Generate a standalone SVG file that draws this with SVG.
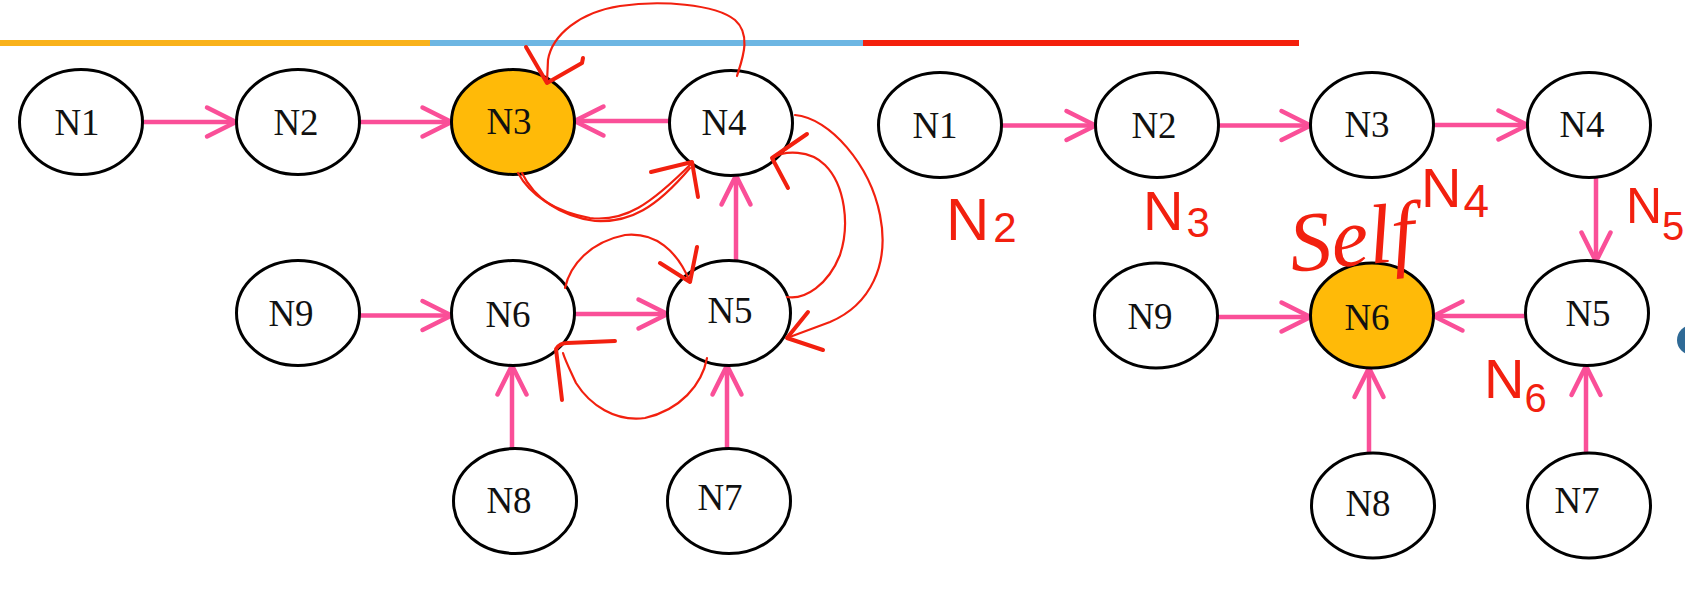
<svg xmlns="http://www.w3.org/2000/svg" width="1685" height="606" viewBox="0 0 1685 606">
<defs>
<marker id="ah" markerUnits="userSpaceOnUse" markerWidth="44" markerHeight="44" viewBox="-36 -22 44 44" refX="0" refY="0" orient="auto" overflow="visible">
<path d="M-29,-14.5 L0,0 L-29,14.5" fill="none" stroke="#FA4F98" stroke-width="4.5" stroke-linecap="round" stroke-linejoin="round"/>
</marker>
<style>
.nd{fill:#FFFFFF;stroke:#000;stroke-width:3}
.hl{fill:#FFBA08;stroke:#000;stroke-width:3}
.lb{font-family:"Liberation Serif","Times New Roman",serif;font-size:37px;fill:#111;text-anchor:middle}
.cn{fill:none;stroke:#FA4F98;stroke-width:4.5;marker-end:url(#ah)}
.rc{fill:none;stroke:#F2200F;stroke-width:2.2;stroke-linecap:round;stroke-linejoin:round}
.ra{fill:none;stroke:#F2200F;stroke-width:4;stroke-linecap:round;stroke-linejoin:round}
.hw{font-family:"Liberation Sans",Arial,sans-serif;fill:#F2200F}
.sf{font-family:"Liberation Serif","Times New Roman",serif;font-style:italic;fill:#F2200F}
</style>
</defs>
<rect width="1685" height="606" fill="#FFFFFF"/>
<g id="bars">
<rect x="0" y="40" width="430" height="6" fill="#F9B21B"/>
<rect x="430" y="40" width="433" height="6" fill="#6DB6E3"/>
<rect x="863" y="40" width="436" height="6" fill="#F4200C"/>
</g>
<g id="connectors">
<path class="cn" d="M143,122 H236"/>
<path class="cn" d="M359.5,122 H451.5"/>
<path class="cn" d="M669.5,121 H574.5"/>
<path class="cn" d="M736,260.5 V175.5"/>
<path class="cn" d="M359.5,315.5 H451.5"/>
<path class="cn" d="M574.5,314 H667.5"/>
<path class="cn" d="M512,448.5 V365.5"/>
<path class="cn" d="M727,448.5 V365.5"/>
<path class="cn" d="M1001.5,125.5 H1095.5"/>
<path class="cn" d="M1218.5,125.5 H1310.5"/>
<path class="cn" d="M1433.5,125 H1527.5"/>
<path class="cn" d="M1596,177.5 V261.5"/>
<path class="cn" d="M1525.5,316 H1433.5"/>
<path class="cn" d="M1217.5,317 H1310.5"/>
<path class="cn" d="M1369,453 V368"/>
<path class="cn" d="M1586,453 V366"/>
</g>
<g id="left-N1"><ellipse class="nd" cx="81" cy="122" rx="61.5" ry="52.5"/><text class="lb" x="77" y="135">N1</text></g>
<g id="left-N2"><ellipse class="nd" cx="298" cy="122" rx="61.5" ry="52.5"/><text class="lb" x="296" y="135">N2</text></g>
<g id="left-N3"><ellipse class="hl" cx="513" cy="122" rx="61.5" ry="52.5"/><text class="lb" x="509" y="134">N3</text></g>
<g id="left-N4"><ellipse class="nd" cx="731" cy="123" rx="61.5" ry="52.5"/><text class="lb" x="724" y="135">N4</text></g>
<g id="left-N9"><ellipse class="nd" cx="298" cy="313" rx="61.5" ry="52.5"/><text class="lb" x="291" y="326">N9</text></g>
<g id="left-N6"><ellipse class="nd" cx="513" cy="313" rx="61.5" ry="52.5"/><text class="lb" x="508" y="327">N6</text></g>
<g id="left-N5"><ellipse class="nd" cx="729" cy="313" rx="61.5" ry="52.5"/><text class="lb" x="730" y="323">N5</text></g>
<g id="left-N8"><ellipse class="nd" cx="515" cy="501" rx="61.5" ry="52.5"/><text class="lb" x="509" y="513">N8</text></g>
<g id="left-N7"><ellipse class="nd" cx="729" cy="501" rx="61.5" ry="52.5"/><text class="lb" x="720" y="510">N7</text></g>
<g id="right-N1"><ellipse class="nd" cx="940" cy="125" rx="61.5" ry="52.5"/><text class="lb" x="935" y="138">N1</text></g>
<g id="right-N2"><ellipse class="nd" cx="1157" cy="125" rx="61.5" ry="52.5"/><text class="lb" x="1154" y="138">N2</text></g>
<g id="right-N3"><ellipse class="nd" cx="1372" cy="125" rx="61.5" ry="52.5"/><text class="lb" x="1367" y="137">N3</text></g>
<g id="right-N4"><ellipse class="nd" cx="1589" cy="125" rx="61.5" ry="52.5"/><text class="lb" x="1582" y="137">N4</text></g>
<g id="right-N9"><ellipse class="nd" cx="1156" cy="315.5" rx="61.5" ry="52.5"/><text class="lb" x="1150" y="329">N9</text></g>
<g id="right-N6"><ellipse class="hl" cx="1372" cy="315.5" rx="61.5" ry="52.5"/><text class="lb" x="1367" y="330">N6</text></g>
<g id="right-N5"><ellipse class="nd" cx="1587" cy="313" rx="61.5" ry="52.5"/><text class="lb" x="1588" y="326">N5</text></g>
<g id="right-N8"><ellipse class="nd" cx="1373" cy="505.5" rx="61.5" ry="52.5"/><text class="lb" x="1368" y="516">N8</text></g>
<g id="right-N7"><ellipse class="nd" cx="1589" cy="505.5" rx="61.5" ry="52.5"/><text class="lb" x="1577" y="513">N7</text></g>
<g id="annotations">
<path class="rc" d="M737,76 C742,60 752,35 735,20 C715,4 660,0 620,6 C580,12 552,35 548,60 L547,82"/>
<path class="ra" d="M526,47 L547,83 L582,63 L583,58"/>
<path class="rc" d="M518,173 C530,195 555,212 590,218 C625,222 650,205 692,163"/>
<path class="rc" d="M522,173 C534,198 560,216 595,221 C630,223 656,208 690,168"/>
<path class="ra" d="M651,172 L692,162 L698,197"/>
<path class="rc" d="M795,115 C830,118 870,165 880,215 C890,265 870,305 830,322 L787,338"/>
<path class="ra" d="M808,312 L787,338 L823,350"/>
<path class="rc" d="M787,297 C805,300 828,285 840,255 C850,225 845,185 825,165 C810,150 785,150 772,158"/>
<path class="ra" d="M807,134 L772,158 L788,188"/>
<path class="rc" d="M565,288 C570,265 590,242 625,235 C655,232 677,250 690,282"/>
<path class="ra" d="M660,263 L690,282 L697,247"/>
<path class="rc" d="M707,358 C702,385 680,410 645,418 C615,422 590,405 576,383 C570,370 565,360 563,353"/>
<path class="ra" d="M562,400 L556,349 Q560,343 567,343 L615,341"/>
<text class="hw" x="946" y="240" font-size="60">N<tspan font-size="42" dx="4" dy="2">2</tspan></text>
<text class="hw" x="1143" y="230" font-size="56">N<tspan font-size="42" dx="3" dy="7">3</tspan></text>
<text class="hw" x="1421" y="207" font-size="56">N<tspan font-size="46" dx="2" dy="10">4</tspan></text>
<text class="hw" x="1626" y="223" font-size="50">N<tspan font-size="40" dx="0" dy="17">5</tspan></text>
<text class="hw" x="1484" y="398" font-size="56">N<tspan font-size="40" dx="0" dy="14">6</tspan></text>
<text class="sf" x="1292" y="272" font-size="84" transform="rotate(-6 1292 272)">Self</text>
</g>
<circle cx="1692" cy="340" r="15" fill="#2F6A96"/>
</svg>
